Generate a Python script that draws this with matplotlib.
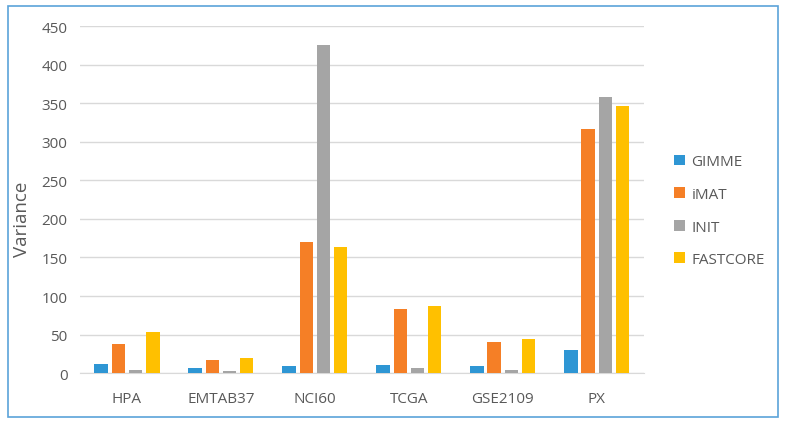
import matplotlib.pyplot as plt
from matplotlib.patches import Rectangle
import numpy as np

plt.rcParams['font.family'] = ['Open Sans', 'DejaVu Sans']

datasets = ["HPA", "EMTAB37", "NCI60", "TCGA", "GSE2109", "PX"]
methods = ["GIMME", "iMAT", "INIT", "FASTCORE"]
gimme = [12, 6.5, 8.7, 10.4, 9, 30.3]
imat = [37.7, 16.4, 170.4, 82.7, 40.7, 317.3]
init = [3.4, 3, 425.6, 6, 4.3, 358]
fastcore = [53.3, 19.5, 164.2, 86.6, 44.2, 346.3]
colors = ["#2E96D4", "#F57F26", "#A5A5A5", "#FFC000"]

fig = plt.figure(figsize=(7.88, 4.27), dpi=100)
ax = fig.add_axes([0.1015, 0.124, 0.7155, 0.812])

x = np.arange(len(datasets))
w = 0.144
step = 0.183
series = [gimme, imat, init, fastcore]
for i, vals in enumerate(series):
    ax.bar(x + (i - 1.5) * step, vals, width=w, color=colors[i], label=methods[i], zorder=3)

ax.set_xlim(-0.5, len(datasets) - 0.5)
ax.set_ylim(0, 450)
ax.set_yticks(range(0, 451, 50))
ax.set_xticks(x)
ax.set_xticklabels(datasets)
ax.yaxis.grid(True, color="#D9D9D9", linewidth=1, zorder=0)
for s in ["top", "right", "left"]:
    ax.spines[s].set_visible(False)
ax.spines["bottom"].set_color("#D9D9D9")
ax.tick_params(axis="both", length=0, labelsize=11, labelcolor="#595959")
ax.tick_params(axis="x", pad=13)
ax.tick_params(axis="y", pad=9)
ax.set_ylabel("Variance", fontsize=13.5, color="#595959")
ax.yaxis.set_label_coords(-0.087, 0.445)

leg = ax.legend(loc="center left", bbox_to_anchor=(1.03, 0.468), frameon=False,
                fontsize=11, handlelength=0.7, handleheight=0.7, handletextpad=0.4,
                labelspacing=1.15)
for t in leg.get_texts():
    t.set_color("#595959")

fig.patches.append(Rectangle((8 / 788, 1 - 418 / 427), 770 / 788, 411 / 427,
                             transform=fig.transFigure, fill=False,
                             edgecolor="#5BA3D9", linewidth=1.2))

plt.savefig("out.png", dpi=100)
